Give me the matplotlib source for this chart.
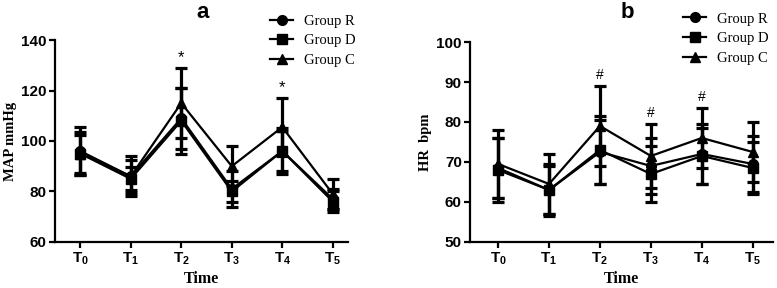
import matplotlib
matplotlib.use("Agg")
import matplotlib.pyplot as plt

plt.rcParams['mathtext.fontset'] = 'custom'
plt.rcParams['mathtext.rm'] = 'Liberation Sans:bold'
plt.rcParams['mathtext.bf'] = 'Liberation Sans:bold'

# Time points
time_labels = ['T$_0$', 'T$_1$', 'T$_2$', 'T$_3$', 'T$_4$', 'T$_5$']
time_pos = [0, 1, 2, 3, 4, 5]

# Panel a: MAP (mmHg), mean and SD per group
map_r = [96, 86, 109, 81, 96, 77]
map_r_sd = [9.6, 8, 12, 7, 9, 4]
map_d = [95, 85, 108, 80, 96, 76]
map_d_sd = [7.5, 4.5, 13, 4, 8, 4]
map_c = [95, 86, 115, 90, 105.5, 79]
map_c_sd = [8.5, 6.5, 14, 8, 11.5, 6]
map_sig_idx = [2, 4]

# Panel b: HR (bpm), mean and SD per group
hr_r = [68.5, 63, 72.5, 69, 72, 69.5]
hr_r_sd = [7.5, 6.5, 8, 7, 7.5, 7]
hr_d = [68, 63, 73, 67, 71.5, 68.5]
hr_d_sd = [8, 6, 8.5, 7, 7, 6.5]
hr_c = [69.5, 64.5, 79, 71.5, 76, 72.5]
hr_c_sd = [8.5, 7.5, 10, 8, 7.5, 7.5]
hr_sig_idx = [2, 3, 4]


def draw_panel(ax, groups, ylim, yticks, ylabel, sig_idx, sig_sym, sig_off, sig_size):
    for label, mean, sd, marker in groups:
        ax.errorbar(time_pos, mean, yerr=sd, color='black', marker=marker,
                    markersize=7, linewidth=1.6, elinewidth=2.3,
                    capsize=4, capthick=2.3, label=label)
    tops = [max(g[1][i] + g[2][i] for g in groups) for i in sig_idx]
    for i, top in zip(sig_idx, tops):
        ax.text(time_pos[i], top + sig_off, sig_sym, ha='center', va='bottom',
                fontsize=sig_size, family='Liberation Sans')
    ax.set_ylim(*ylim)
    ax.set_yticks(yticks)
    ax.set_xticks(time_pos)
    ax.set_xticklabels(time_labels, fontsize=11, fontweight='bold',
                       family='Liberation Sans')
    for t in ax.get_yticklabels():
        t.set_fontweight('bold')
        t.set_family('Liberation Sans')
        t.set_fontsize(11)
    ax.spines['top'].set_visible(False)
    ax.spines['right'].set_visible(False)
    ax.spines['left'].set_linewidth(1.6)
    ax.spines['bottom'].set_linewidth(1.6)
    ax.tick_params(width=1.6, length=4, pad=2)
    ax.set_ylabel(ylabel, fontsize=10.5, fontweight='bold',
                  family='Liberation Serif', labelpad=3)
    ax.set_xlabel('Time', fontsize=11.5, fontweight='bold',
                  family='Liberation Serif', labelpad=3)


def main():
    fig = plt.figure(figsize=(7.77, 2.88), dpi=100)
    ax1 = fig.add_axes([0.0708, 0.160, 0.377, 0.701])
    ax2 = fig.add_axes([0.605, 0.160, 0.39, 0.694])

    draw_panel(ax1, [('Group R', map_r, map_r_sd, 'o'),
                     ('Group D', map_d, map_d_sd, 's'),
                     ('Group C', map_c, map_c_sd, '^')],
               (60, 140), [60, 80, 100, 120, 140], 'MAP mmHg',
               map_sig_idx, '*', 1.0, 12)
    ax1.set_xlim(-0.5, 5.3)

    draw_panel(ax2, [('Group R', hr_r, hr_r_sd, 'o'),
                     ('Group D', hr_d, hr_d_sd, 's'),
                     ('Group C', hr_c, hr_c_sd, '^')],
               (50, 100), [50, 60, 70, 80, 90, 100], 'HR  bpm',
               hr_sig_idx, '#', 1, 10)
    ax2.set_xlim(-0.55, 5.4)

    for ax, anchor in [(ax1, (0.3475, 0.95)), (ax2, (0.879, 0.957))]:
        h, l = ax.get_legend_handles_labels()
        h = [x[0] for x in h]
        fig.legend(h, l, loc='upper left', bbox_to_anchor=anchor,
                   frameon=False, borderpad=0, borderaxespad=0,
                   handlelength=1.6, handletextpad=0.7, labelspacing=0.45,
                   prop={'family': 'Liberation Serif', 'size': 10.5})

    fig.text(0.261, 0.955, 'a', ha='center', va='center', fontsize=16,
             fontweight='bold', family='Liberation Sans')
    fig.text(0.807, 0.955, 'b', ha='center', va='center', fontsize=16,
             fontweight='bold', family='Liberation Sans')

    fig.savefig('out.png', dpi=100)


if __name__ == "__main__":
    main()
